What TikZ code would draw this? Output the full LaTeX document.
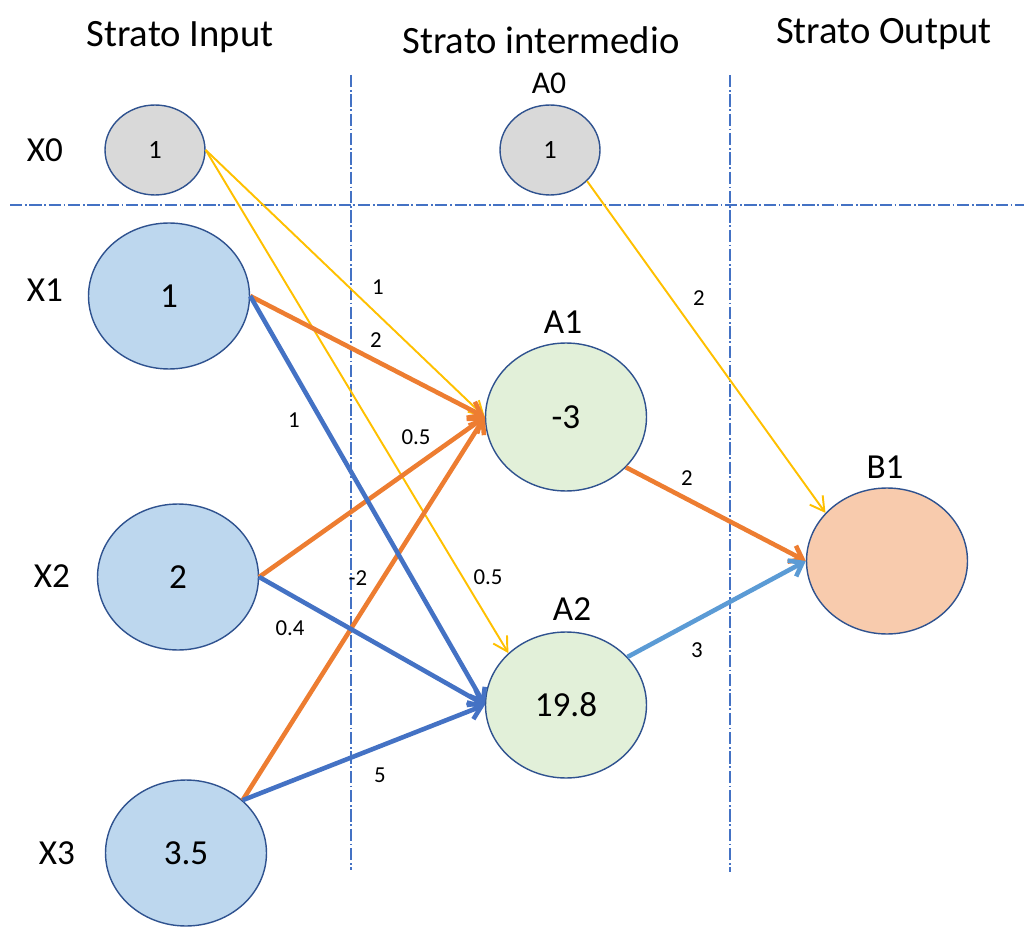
\documentclass[tikz,border=0pt]{standalone}
\usepackage{fontspec}
\setmainfont{Carlito}
\usetikzlibrary{arrows.meta,shapes.geometric}
\definecolor{rim}{HTML}{2F528F}
\definecolor{grid}{HTML}{4472C4}
\definecolor{biasfill}{HTML}{D9D9D9}
\definecolor{infill}{HTML}{BDD7EE}
\definecolor{hidfill}{HTML}{E2F0D9}
\definecolor{outfill}{HTML}{F8CBAD}
\definecolor{wgold}{HTML}{FFC000}
\definecolor{worange}{HTML}{ED7D31}
\definecolor{wblue}{HTML}{4472C4}
\definecolor{wsky}{HTML}{5B9BD5}

\begin{document}
\begin{tikzpicture}[
  x=0.02cm, y=-0.02cm,
  unit/.style={draw=rim, line width=0.8pt, ellipse, inner sep=0pt,
    minimum width=3.22cm, minimum height=2.92cm, font=\fontsize{20}{24}\selectfont},
  biasunit/.style={unit, fill=biasfill, minimum width=2cm, minimum height=1.8cm,
    font=\fontsize{15}{18}\selectfont},
  title/.style={font=\fontsize{22}{26}\selectfont},
  tag/.style={font=\fontsize{20}{24}\selectfont},
  wlab/.style={font=\fontsize{13}{15}\selectfont},
  sep/.style={grid, line width=0.6pt, dash pattern=on 7pt off 1.5pt on 1pt off 1.5pt},
  wthin/.style={line width=1.1pt, -{Straight Barb[length=2.8mm,width=3.2mm]}},
  wthick/.style={line width=2.6pt, -{Straight Barb[length=2.4mm,width=3.6mm]}}
]
\useasboundingbox (0,0) rectangle (1024,932);

% layer headings
\node[title] (tin)  at (180,37) {Strato Input};
\node[title] (thid) at (541,40) {Strato intermedio};
\node[title] (tout) at (884,34) {Strato Output};

% separators
\draw[sep] (351,75) -- (351,870);
\draw[sep] (730,75) -- (730,872);
\draw[sep] (10,205) -- (1024,205);

% units
\node[biasunit] (x0) at (155,150) {1};
\node[unit, fill=infill] (x1) at (169,296) {1};
\node[unit, fill=infill] (x2) at (178,577) {2};
\node[unit, fill=infill] (x3) at (186,853) {3.5};
\node[biasunit] (a0) at (550,150) {1};
\node[unit, fill=hidfill, minimum height=2.96cm] (a1) at (566,417) {-3};
\node[unit, fill=hidfill] (a2) at (566,705) {19.8};
\node[unit, fill=outfill] (b1) at (887,561) {};

% unit names
\node[tag] (nx0) at (45,150) {X0};
\node[tag] (nx1) at (45,290) {X1};
\node[tag] (nx2) at (52,576) {X2};
\node[tag] (nx3) at (57,853) {X3};
\node[tag, font=\fontsize{18}{22}\selectfont] (na0) at (549,83) {A0};
\node[tag] (na1) at (563,322) {A1};
\node[tag] (na2) at (572,609) {A2};
\node[tag] (nb1) at (885,467) {B1};

% weights
\draw[wthin, wgold] (x0.east) -- (a1.west);
\draw[wthin, wgold] (x0.east) -- (a2.138);
\draw[wthin, wgold] (a0.-40) -- (b1.142);
\draw[wthick, worange] (x1.east) -- (a1.west);
\draw[wthick, worange] (x2.east) -- (a1.west);
\draw[wthick, worange] (x3.43) -- (a1.west);
\draw[wthick, worange] (a1.-40) -- (b1.west);
\draw[wthick, wblue] (x1.east) -- (a2.west);
\draw[wthick, wblue] (x2.east) -- (a2.west);
\draw[wthick, wblue] (x3.43) -- (a2.west);
\draw[wthick, wsky] (a2.38) -- (b1.west);

% weight values
\node[wlab] (w1) at (378,287) {1};
\node[wlab] (w2) at (376,340) {2};
\node[wlab] (w3) at (294,420) {1};
\node[wlab] (w4) at (416,437) {0.5};
\node[wlab] (w5) at (358,578) {-2};
\node[wlab] (w6) at (488,577) {0.5};
\node[wlab] (w7) at (290,628) {0.4};
\node[wlab] (w8) at (380,775) {5};
\node[wlab] (w9) at (699,298) {2};
\node[wlab] (w10) at (687,478) {2};
\node[wlab] (w11) at (697,650) {3};
\end{tikzpicture}
\end{document}
